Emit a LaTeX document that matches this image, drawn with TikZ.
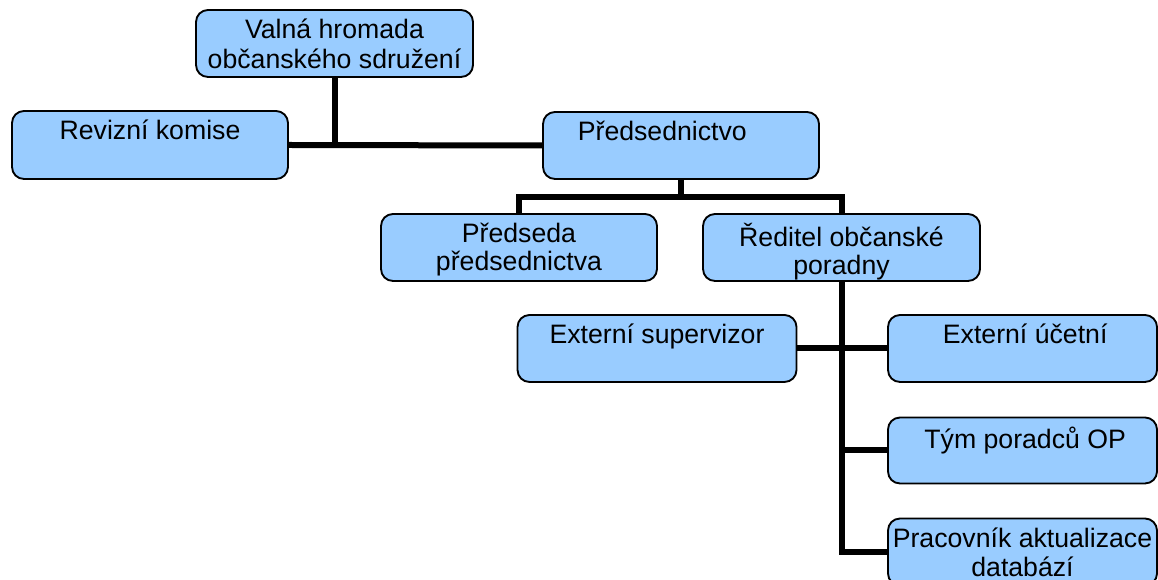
\documentclass[tikz,border=0pt]{standalone}
\usepackage{fontspec}
\setmainfont{Liberation Sans}
\definecolor{boxblue}{HTML}{99CCFF}
\begin{document}
\begin{tikzpicture}[x=0.75pt,y=-0.75pt,
  box/.style 2 args={draw=black, fill=boxblue, rounded corners=9pt, line width=1.4pt,
    minimum width=#1*0.75pt, minimum height=#2*0.75pt, inner sep=0pt},
  txt/.style={anchor=north, inner sep=0pt, align=center, font=\fontsize{20}{21}\selectfont},
  conn/.style={line width=4.5pt, line join=miter, line cap=butt}]
\useasboundingbox (0,0) rectangle (1158,580);

\coordinate (j1) at (681,197);

% boxes
\node[box={277}{67}] (valna) at (334.5,43.5) {};
\node[box={276}{68}] (rev) at (150,145) {};
\node[box={276}{67}] (pred) at (681,145.5) {};
\node[box={276}{67}] (predseda) at (519,247.5) {};
\node[box={277}{67}] (reditel) at (841.5,247.5) {};
\node[box={279}{67}] (sup) at (657,348.5) {};
\node[box={269}{67}] (uc) at (1022.5,348.5) {};
\node[box={269}{66}] (tym) at (1022.5,450.5) {};
\node[box={269}{67}] (prac) at (1022.5,552) {};

% connectors
\draw[conn] (valna.south) -- (valna.south |- rev.east);
\draw[conn] (rev.east) -- (pred.west);
\draw[conn] (pred.south) -- (j1);
\draw[conn] (predseda.north) |- (j1) -| (reditel.north);
\draw[conn] (reditel.south) |- (prac.west);
\draw[conn] (sup.east) -- (uc.west);
\draw[conn] (tym.west) -- (tym.west -| reditel.south);

% texts
\node[txt] (valnaT) at ([yshift=-7.5pt]valna.north) {\strut Valná hromada\\\strut občanského sdružení};
\node[txt] (revT) at ([yshift=-7.5pt]rev.north) {\strut Revizní komise};
\node[txt] (predT) at ([xshift=-14pt,yshift=-7.5pt]pred.north) {\strut Předsednictvo};
\node[txt] (predsedaT) at ([yshift=-7.5pt]predseda.north) {\strut Předseda\\\strut předsednictva};
\node[txt] (reditelT) at ([yshift=-7.5pt]reditel.north) {\strut Ředitel občanské\\\strut poradny};
\node[txt] (supT) at ([yshift=-7.5pt]sup.north) {\strut Externí supervizor};
\node[txt] (ucT) at ([xshift=2pt,yshift=-7.5pt]uc.north) {\strut Externí účetní};
\node[txt] (tymT) at ([xshift=2pt,yshift=-7.5pt]tym.north) {\strut Tým poradců OP};
\node[txt] (pracT) at ([yshift=-7.5pt]prac.north) {\strut Pracovník aktualizace\\\strut databází};
\end{tikzpicture}
\end{document}
